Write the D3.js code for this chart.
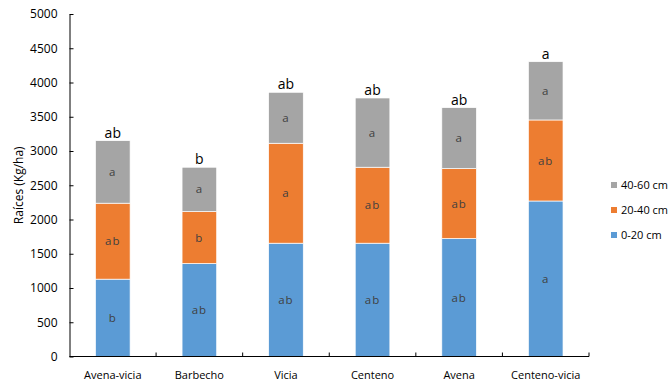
<!DOCTYPE html>
<html>
<head>
<meta charset="utf-8">
<script src="https://cdn.jsdelivr.net/npm/d3@7"></script>
<style>
  html, body { margin: 0; padding: 0; background: #fff; }
  svg { display: block; }
  text { font-family: "Open Sans", "DejaVu Sans", sans-serif; }
</style>
</head>
<body>
<svg id="chart" width="672" height="385"></svg>
<script>
// Root biomass by cover crop and soil depth layer
const categories = ["Avena-vicia", "Barbecho", "Vicia", "Centeno", "Avena", "Centeno-vicia"];
const depth0to20  = [1129, 1357, 1654, 1654, 1722, 2270];
const depth20to40 = [1109, 758, 1459, 1109, 1021, 1183];
const depth40to60 = [913, 648, 744, 1011, 890, 851];

// Significance letters per layer and for the total
const letters0to20  = ["b", "ab", "ab", "ab", "ab", "a"];
const letters20to40 = ["ab", "b", "a", "ab", "ab", "ab"];
const letters40to60 = ["a", "a", "a", "a", "a", "a"];
const lettersTotal  = ["ab", "b", "ab", "ab", "ab", "a"];

const seriesNames = ["0-20 cm", "20-40 cm", "40-60 cm"];
const seriesColors = ["#5B9BD5", "#ED7D31", "#A5A5A5"];
const yTicks = [0, 500, 1000, 1500, 2000, 2500, 3000, 3500, 4000, 4500, 5000];
const yTitle = "Raíces (Kg/ha)";

const svg = d3.select("#chart");
const plotLeft = 69.5, plotRight = 589, plotTop = 14, plotBottom = 356.5;

const x = d3.scaleBand().domain(categories).range([plotLeft, plotRight]).paddingInner(0.6).paddingOuter(0.3);
const xb = d3.scaleBand().domain(categories).range([plotLeft, plotRight]);
const y = d3.scaleLinear().domain([0, 5000]).range([plotBottom, plotTop]);

const rows = categories.map((c, i) => ({
  cat: c,
  s0: depth0to20[i], s1: depth20to40[i], s2: depth40to60[i]
}));
const stack = d3.stack().keys(["s0", "s1", "s2"]);
const layers = stack(rows);
const layerLetters = [letters0to20, letters20to40, letters40to60];

// Stacked bars
layers.forEach((layer, li) => {
  const g = svg.append("g");
  g.selectAll("rect").data(layer).join("rect")
    .attr("x", d => x(d.data.cat))
    .attr("width", x.bandwidth())
    .attr("y", d => y(d[1]))
    .attr("height", d => y(d[0]) - y(d[1]))
    .attr("fill", seriesColors[li])
    .attr("stroke", "#fff")
    .attr("stroke-width", 0.7);
  g.selectAll("text").data(layer).join("text")
    .attr("x", d => x(d.data.cat) + x.bandwidth() / 2)
    .attr("y", d => (y(d[0]) + y(d[1])) / 2)
    .attr("dy", "0.35em")
    .attr("text-anchor", "middle")
    .attr("font-size", 11.5)
    .attr("letter-spacing", "1px")
    .attr("fill", "#3f3f3f")
    .text((d, i) => layerLetters[li][i]);
});

// Letters above each bar total
svg.append("g").selectAll("text").data(layers[2]).join("text")
  .attr("x", d => x(d.data.cat) + x.bandwidth() / 2)
  .attr("y", d => y(d[1]) - 3)
  .attr("text-anchor", "middle")
  .attr("font-size", 14)
  .attr("fill", "#000")
  .text((d, i) => lettersTotal[i]);

// Y axis
const yAxis = svg.append("g").attr("transform", `translate(${plotLeft},0)`)
  .call(d3.axisLeft(y).tickValues(yTicks).tickFormat(d3.format("d"))
    .tickSizeInner(-4).tickSizeOuter(0).tickPadding(12));
yAxis.select(".domain").attr("stroke", "#000").attr("stroke-width", 1);
yAxis.selectAll(".tick line").attr("stroke", "#000");
yAxis.selectAll(".tick text").attr("font-size", 12).attr("fill", "#000")
  .attr("font-family", "'Open Sans', sans-serif");

// X axis with ticks at band boundaries
const xAxis = svg.append("g").attr("transform", `translate(0,${plotBottom})`);
xAxis.append("line").attr("x1", plotLeft).attr("x2", plotRight).attr("stroke", "#000").attr("stroke-width", 1.2);
const bounds = categories.map(c => xb(c)).concat([plotRight]);
xAxis.selectAll("line.tk").data(bounds.slice(1)).join("line").attr("class", "tk")
  .attr("x1", d => d).attr("x2", d => d).attr("y1", 0).attr("y2", -4).attr("stroke", "#000");
xAxis.selectAll("text").data(categories).join("text")
  .attr("x", d => xb(d) + xb.bandwidth() / 2)
  .attr("y", 22)
  .attr("text-anchor", "middle")
  .attr("font-size", 11)
  .attr("fill", "#000")
  .text(d => d);

// Y axis title
svg.append("text")
  .attr("transform", `translate(23,${(plotTop + plotBottom) / 2}) rotate(-90)`)
  .attr("text-anchor", "middle")
  .attr("font-size", 12)
  .attr("fill", "#000")
  .text(yTitle);

// Legend, top layer first
const legendItems = [2, 1, 0];
const legend = svg.append("g").attr("transform", "translate(611,185)");
legendItems.forEach((si, k) => {
  const gy = k * 25;
  legend.append("rect").attr("x", 0).attr("y", gy - 3).attr("width", 6).attr("height", 6)
    .attr("fill", seriesColors[si]);
  legend.append("text").attr("x", 10).attr("y", gy).attr("dy", "0.35em")
    .attr("font-size", 11).attr("fill", "#000").text(seriesNames[si]);
});
</script>
</body>
</html>
